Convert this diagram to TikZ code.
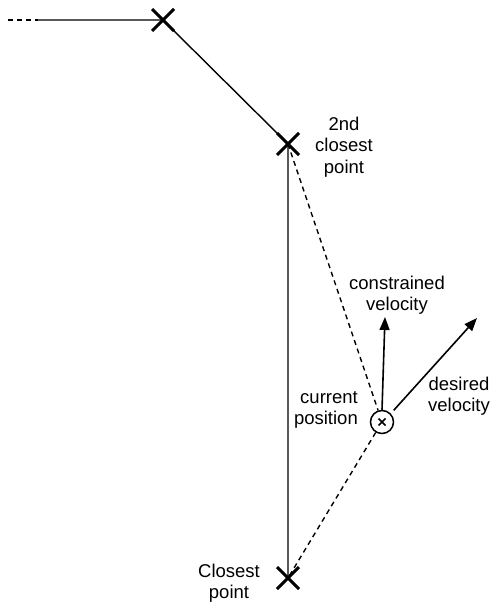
\documentclass[tikz,border=0pt]{standalone}
\usepackage{fontspec}
\setmainfont{Liberation Sans}
\usetikzlibrary{arrows.meta,calc}
\begin{document}
\begin{tikzpicture}[x=1pt,y=-1pt,
  every node/.style={font=\fontsize{18.5}{21.5}\selectfont, align=center, inner sep=0pt},
  path/.style={line width=1.4pt},
  guide/.style={line width=1.4pt, dash pattern=on 5pt off 4pt},
  cross/.style={line width=3pt},
  vel/.style={line width=1.6pt, -{Triangle[length=13pt,width=10pt]}}]
\useasboundingbox (0,0) rectangle (495,602);

% waypoints
\coordinate (p1) at (163,20);
\coordinate (p2) at (288,144);
\coordinate (p3) at (288,578);
\coordinate (tail) at (8,20);
\coordinate (tailsolid) at (38,20);

% current position marker
\node[circle, draw, line width=1.5pt, minimum size=23pt] (cur) at (382,422) {};
\draw[line width=1.5pt] ($(cur)+(-3.5,-3.5)$) -- ($(cur)+(3.5,3.5)$);
\draw[line width=1.5pt] ($(cur)+(-3.5,3.5)$) -- ($(cur)+(3.5,-3.5)$);

% path segments
\draw[guide] (tail) -- (tailsolid);
\draw[path] (tailsolid) -- (p1) -- (p2) -- (p3);

% projections onto the path
\draw[guide] (p2) -- (cur);
\draw[guide] (cur) -- (p3);

% waypoint crosses
\foreach \p in {p1,p2,p3}{
  \draw[cross] ($(\p)+(-11,-11)$) -- ($(\p)+(11,11)$);
  \draw[cross] ($(\p)+(-11,11)$) -- ($(\p)+(11,-11)$);
}

% velocities
\coordinate (cvtip) at (385,317);
\coordinate (dvtip) at (477,318);
\draw[vel] (cur.north) -- (cvtip);
\draw[vel] ($(cur.45)+(3,-3)$) -- (dvtip);

% labels
\node (l2nd) at (344,147) {2nd\\closest\\point};
\node (lcv) at (397,295) {constrained\\velocity};
\node (ldv) at (459,396) {desired\\velocity};
\node[align=right, anchor=east] (lcur) at (358,410) {current\\position};
\node (lclose) at (229,583) {Closest\\point};
\end{tikzpicture}
\end{document}
